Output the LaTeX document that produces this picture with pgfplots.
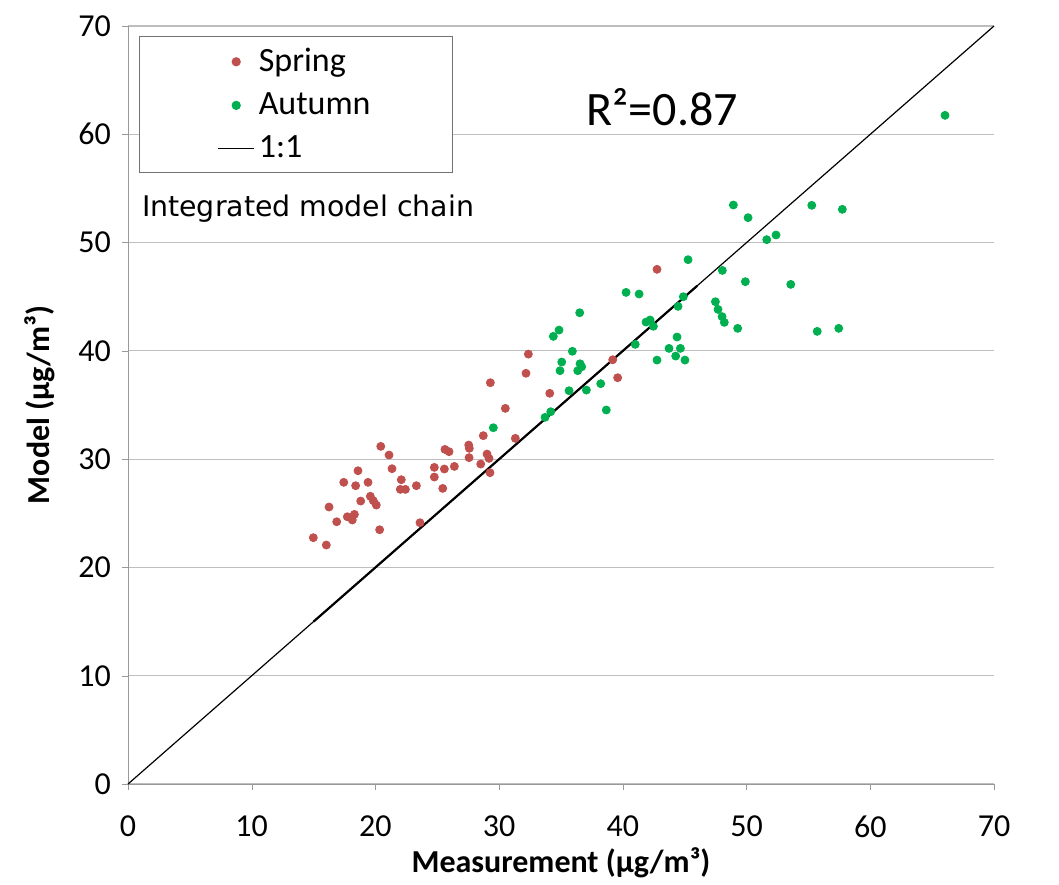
\documentclass[border=0pt]{standalone}
\usepackage{pgfplots}
\pgfplotsset{compat=1.18}
\usepackage{fontspec}
\setmainfont{Carlito}
\newfontfamily\dejavu{DejaVu Sans}
\definecolor{spr}{HTML}{C0504D}
\definecolor{aut}{HTML}{00B050}
\definecolor{gridc}{HTML}{BEBEBE}
\pgfplotsset{
  markleg/.style={legend image code/.code={\draw[mark repeat=2,mark phase=2,##1] plot coordinates {(0pt,0pt) (9pt,0pt) (18pt,0pt)};}},
  lineleg/.style={legend image code/.code={\draw[##1] (0pt,0pt) -- (18pt,0pt);}},
}
\pgfplotstableread{
x y
32.36 39.70
32.17 37.93
29.29 37.06
30.50 34.69
34.09 36.08
31.31 31.92
28.72 32.17
27.54 31.30
27.59 31.00
27.57 30.14
29.02 30.47
29.18 30.07
28.51 29.55
29.26 28.75
25.62 30.90
25.95 30.69
26.38 29.33
25.57 29.09
24.76 29.24
24.76 28.35
25.44 27.30
20.43 31.18
21.10 30.38
21.34 29.12
22.09 28.10
22.01 27.21
22.42 27.21
23.31 27.55
23.60 24.13
18.59 28.93
17.44 27.86
18.40 27.55
19.40 27.86
18.81 26.13
19.59 26.57
19.83 26.16
20.07 25.76
20.34 23.48
16.25 25.58
17.73 24.68
18.30 24.90
18.13 24.38
16.87 24.22
14.98 22.75
16.03 22.07
42.76 47.53
39.18 39.18
39.58 37.52
}\spring
\pgfplotstableread{
x y
66.04 61.75
48.93 53.47
50.12 52.30
51.63 50.27
52.38 50.70
55.27 53.44
57.74 53.07
45.27 48.42
48.04 47.43
49.90 46.39
53.57 46.14
40.26 45.40
41.31 45.25
44.89 45.00
44.46 44.11
47.48 44.54
47.69 43.83
48.02 43.16
48.20 42.63
49.28 42.08
55.71 41.80
57.45 42.08
36.51 43.52
34.84 41.92
34.38 41.34
41.87 42.66
42.20 42.85
42.47 42.27
44.38 41.28
41.00 40.60
43.73 40.23
44.65 40.23
44.27 39.52
45.02 39.15
42.76 39.15
35.92 39.96
35.06 38.97
36.54 38.81
36.67 38.53
34.92 38.17
36.35 38.17
38.21 36.97
37.05 36.38
35.65 36.32
38.66 34.54
34.17 34.38
33.71 33.86
29.53 32.90
}\autumn
\begin{document}
\begin{tikzpicture}
\begin{axis}[
  width=433pt, height=379pt, scale only axis,
  xmin=0, xmax=70, ymin=0, ymax=70,
  xtick={0,10,...,70}, ytick={0,10,...,70},
  axis lines*=left,
  axis line style={draw=gray!80},
  ymajorgrids, grid style={draw=gridc, line width=0.6pt},
  tick align=outside, major tick length=3pt,
  tick style={draw=gray!80},
  x tick label style={font=\fontsize{16}{19}\selectfont, yshift=-9.5pt},
  y tick label style={font=\fontsize{16}{19}\selectfont, xshift=-2pt},
  /pgf/number format/assume math mode=true,
  xlabel={\bfseries Measurement (µg/m³)},
  ylabel={\bfseries Model (µg/m³)},
  label style={font=\fontsize{16}{19}\selectfont},
  xlabel style={yshift=2pt},
  ylabel style={yshift=5pt},
  clip=false,
  legend style={at={(0,1)}, anchor=north west, xshift=5.5pt, yshift=-5pt,
    draw=gray!90!black, line width=0.6pt, inner xsep=39pt, inner ysep=4pt,
    font=\fontsize{17}{20}\selectfont, row sep=5pt},
  legend cell align=left,
]
\addplot[only marks, mark=*, mark size=2pt, color=spr, markleg] table {\spring};
\addlegendentry{Spring}
\addplot[only marks, mark=*, mark size=2pt, color=aut, markleg] table {\autumn};
\addlegendentry{Autumn}
\addplot[black, line width=0.6pt, lineleg] coordinates {(0,0) (70,70)};
\addlegendentry{1:1}
\addplot[black, line width=1.1pt, forget plot] coordinates {(15,15) (46,46)};
\node[anchor=west, font=\fontsize{24}{28}\selectfont] at (axis cs:36.5,62.5) {R²=0.87};
\node[anchor=base west, inner sep=0pt, font=\dejavu\fontsize{14.2}{17}\selectfont] at (axis cs:1.1,52.4) {Integrated model chain};
\path ([shift={(-64pt,-46pt)}]rel axis cs:0,0) rectangle ([shift={(32.5pt,13pt)}]rel axis cs:1,1);
\end{axis}
\end{tikzpicture}
\end{document}
